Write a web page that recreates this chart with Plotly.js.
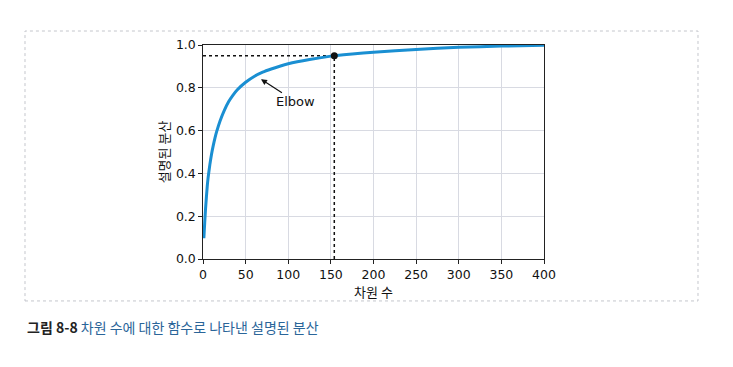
<!DOCTYPE html>
<html><head><meta charset="utf-8">
<script src="https://cdn.plot.ly/plotly-3.0.1.min.js"></script>
<style>html,body{margin:0;padding:0;background:#fff}#plot{width:733px;height:367px}</style>
</head><body><div id="plot"></div>
<script>
const dims = [1,2,3,4,5,6,8,10,12,14,16,20,25,30,35,40,50,60,70,80,90,100,125,150,154,175,200,250,300,350,400];
const explained = [0.097,0.17,0.235,0.29,0.34,0.38,0.44,0.49,0.53,0.565,0.595,0.645,0.695,0.735,0.765,0.79,0.826,0.853,0.873,0.888,0.901,0.912,0.932,0.948,0.95,0.958,0.966,0.979,0.989,0.995,0.999];
const elbowD = 154, elbowV = 0.95;
const xTicks = [0,50,100,150,200,250,300,350,400];
const yTicks = [0.0,0.2,0.4,0.6,0.8,1.0];
const yTickText = ['0.0','0.2','0.4','0.6','0.8','1.0'];
const xTitle = '차원 수', yTitle = '설명된 분산';
const caption = '<b>그림 8-8</b> <span style="color:#2a6599">차원 수에 대한 함수로 나타낸 설명된 분산</span>';

const tickFont = {family:'DejaVu Sans, sans-serif', size:12.5, color:'#111'};
const korFont = {family:'Noto Sans CJK KR, sans-serif', size:13, color:'#111'};

const traces = [
  {x:[0,elbowD], y:[elbowV,elbowV], mode:'lines', line:{color:'#111',width:1.5,dash:'dot'}, hoverinfo:'skip'},
  {x:[elbowD,elbowD], y:[0,elbowV], mode:'lines', line:{color:'#111',width:1.5,dash:'dot'}, hoverinfo:'skip'},
  {x:dims, y:explained, mode:'lines', line:{color:'#1a8fd2',width:3,shape:'spline',smoothing:0.6}},
  {x:[elbowD], y:[elbowV], mode:'markers', marker:{color:'#111',size:7}}
];
const layout = {
  width:733, height:367, showlegend:false,
  margin:{l:203,r:189,t:45,b:108},
  paper_bgcolor:'#fff', plot_bgcolor:'#fff',
  xaxis:{range:[0,400], tickvals:xTicks, ticks:'outside', ticklen:3.5, tickcolor:'#222',
    showgrid:true, gridcolor:'#d8dae2', zeroline:false, showline:true, linecolor:'#222', linewidth:1.2, mirror:true,
    tickfont:tickFont, title:{text:xTitle, font:korFont, standoff:1}},
  yaxis:{range:[0,1], tickvals:yTicks, ticktext:yTickText, ticks:'outside', ticklen:3.5, tickcolor:'#222',
    showgrid:true, gridcolor:'#d8dae2', zeroline:false, showline:true, linecolor:'#222', linewidth:1.2, mirror:true,
    tickfont:tickFont, title:{text:yTitle, font:korFont, standoff:3}},
  shapes:[{type:'rect', xref:'paper', yref:'paper', x0:-0.522, x1:1.4516, y0:-0.196, y1:1.0654,
    line:{color:'#c4c6cc', width:1, dash:'dot'}, fillcolor:'rgba(0,0,0,0)', layer:'below'}],
  annotations:[
    {x:68, y:0.84, xref:'x', yref:'y', ax:109, ay:0.735, axref:'x', ayref:'y', text:'Elbow',
     font:{family:'DejaVu Sans, sans-serif', size:13, color:'#111'}, showarrow:true, arrowhead:2, arrowsize:1, arrowwidth:1.2, arrowcolor:'#111'},
    {x:-0.522, y:-0.318, xref:'paper', yref:'paper', xanchor:'left', yanchor:'middle', showarrow:false,
     text:caption, font:{family:'Noto Sans CJK KR, sans-serif', size:14, color:'#222'}}
  ]
};
Plotly.newPlot('plot', traces, layout, {displayModeBar:false, staticPlot:true});
</script></body></html>
